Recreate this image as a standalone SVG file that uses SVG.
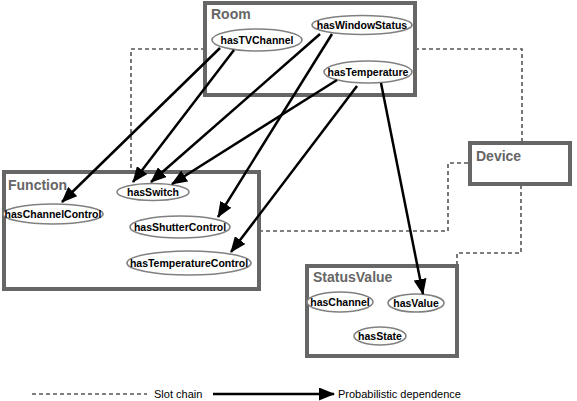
<svg xmlns="http://www.w3.org/2000/svg" width="577" height="401" viewBox="0 0 577 401">
<defs>
<style>
.box{fill:#fff;stroke:#666;stroke-width:4}
.title{font-family:"Liberation Sans",Arial,sans-serif;font-weight:bold;font-size:14px;fill:#666}
.attr{fill:#fff;stroke:#808080;stroke-width:1.6}
.lbl{font-family:"Liberation Sans",Arial,sans-serif;font-weight:bold;font-size:10.5px;fill:#000;text-anchor:middle}
.slot{fill:none;stroke:#555;stroke-width:1.6;stroke-dasharray:4,3}
.dep{fill:none;stroke:#000;stroke-width:2.5;marker-end:url(#ah)}
.leg{font-family:"Liberation Sans",Arial,sans-serif;font-size:11px;fill:#000}
</style>
<marker id="ah" markerUnits="userSpaceOnUse" markerWidth="16" markerHeight="13" refX="15" refY="6.5" orient="auto">
<path d="M0,0 L16,6.5 L0,13 Z" fill="#000"/>
</marker>
</defs>
<g id="connectors-slot">
<path class="slot" d="M205,49 H131 V172"/>
<path class="slot" d="M415,49 H522 V143"/>
<path class="slot" d="M468,163 H448 V231 H261"/>
<path class="slot" d="M521,185 V253 H457 V266"/>
</g>
<g id="Room">
<rect class="box" x="205" y="3" width="210" height="92"/>
<text class="title" x="211" y="19">Room</text>
<g id="hasTVChannel"><ellipse class="attr" cx="257" cy="40" rx="45" ry="11"/><text class="lbl" x="257" y="44">hasTVChannel</text></g>
<g id="hasWindowStatus"><ellipse class="attr" cx="362" cy="25" rx="50" ry="9.5"/><text class="lbl" x="362" y="29">hasWindowStatus</text></g>
<g id="hasTemperature"><ellipse class="attr" cx="368" cy="72" rx="44" ry="11"/><text class="lbl" x="368" y="76">hasTemperature</text></g>
</g>
<g id="Function">
<rect class="box" x="4" y="172" width="255" height="117"/>
<text class="title" x="8" y="190">Function</text>
<g id="hasSwitch"><ellipse class="attr" cx="153" cy="192" rx="36" ry="8.5"/><text class="lbl" x="153" y="196">hasSwitch</text></g>
<g id="hasChannelControl"><ellipse class="attr" cx="53" cy="214" rx="50" ry="10"/><text class="lbl" x="53" y="218">hasChannelControl</text></g>
<g id="hasShutterControl"><ellipse class="attr" cx="180" cy="227" rx="50" ry="11"/><text class="lbl" x="180" y="231">hasShutterControl</text></g>
<g id="hasTemperatureControl"><ellipse class="attr" cx="189" cy="263" rx="62" ry="12"/><text class="lbl" x="189" y="267">hasTemperatureControl</text></g>
</g>
<g id="StatusValue">
<rect class="box" x="307" y="266" width="150" height="90"/>
<text class="title" x="313" y="282">StatusValue</text>
<g id="hasChannel"><ellipse class="attr" cx="340" cy="302" rx="33" ry="10"/><text class="lbl" x="340" y="306">hasChannel</text></g>
<g id="hasValue"><ellipse class="attr" cx="416" cy="303" rx="28" ry="9"/><text class="lbl" x="416" y="307">hasValue</text></g>
<g id="hasState"><ellipse class="attr" cx="380" cy="336" rx="26" ry="9"/><text class="lbl" x="380" y="340">hasState</text></g>
</g>
<g id="Device">
<rect class="box" x="470" y="143" width="100" height="41"/>
<text class="title" x="476" y="161">Device</text>
</g>
<g id="connectors-dep">
<line class="dep" x1="220" y1="48" x2="62" y2="202"/>
<line class="dep" x1="234" y1="50" x2="133" y2="182"/>
<line class="dep" x1="320" y1="34" x2="151" y2="182"/>
<line class="dep" x1="332" y1="34" x2="218" y2="217"/>
<line class="dep" x1="337" y1="80" x2="172" y2="184"/>
<line class="dep" x1="357" y1="86" x2="231" y2="252"/>
<line class="dep" x1="381" y1="83" x2="423" y2="294"/>
</g>
<g id="legend">
<line class="slot" x1="32" y1="394" x2="147" y2="394"/>
<text class="leg" x="154" y="398">Slot chain</text>
<line class="dep" x1="213" y1="394" x2="334" y2="394"/>
<text class="leg" x="338" y="398">Probabilistic dependence</text>
</g>
</svg>
